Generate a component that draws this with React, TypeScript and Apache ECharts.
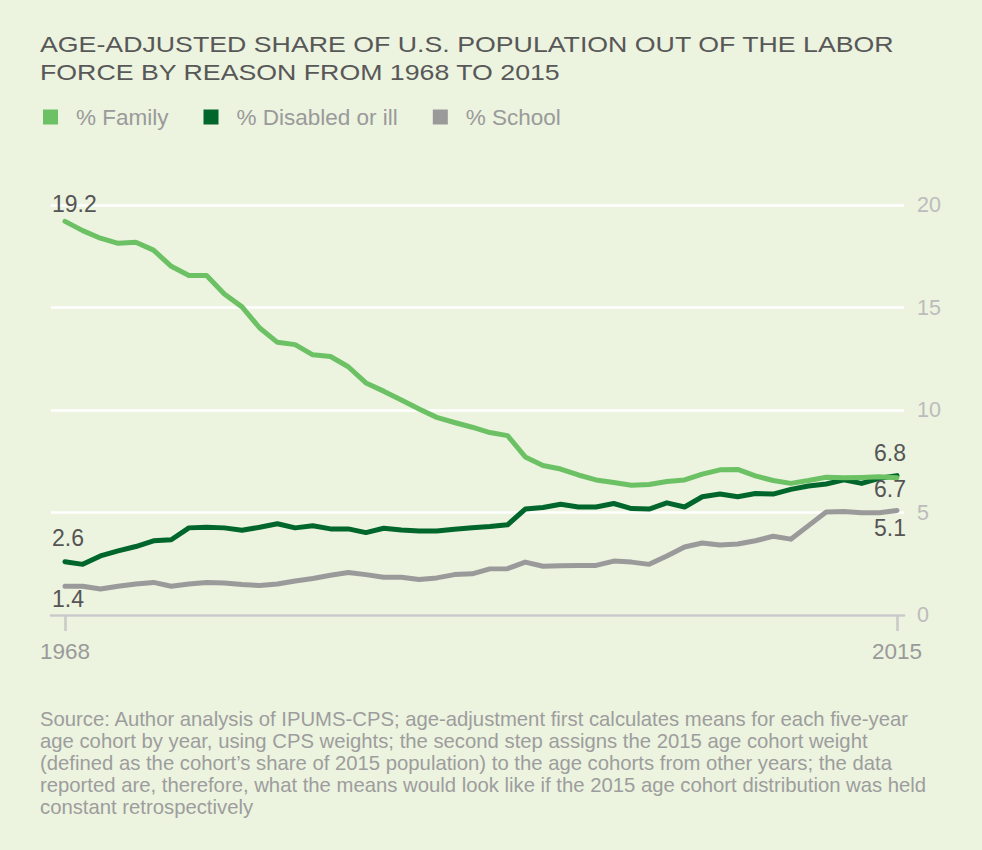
import React, { useEffect, useRef } from "react";
import * as echarts from "echarts";

const FONT = '"Liberation Sans", Arial, Helvetica, sans-serif';

const startYear = 1968;
const endYear = 2015;

const familyValues = [
  19.2, 18.75, 18.38, 18.13, 18.18, 17.8, 17.01, 16.56, 16.56, 15.66, 15.03, 14.0,
  13.3, 13.19, 12.69, 12.61, 12.11, 11.32, 10.92, 10.49, 10.05, 9.64, 9.39, 9.16,
  8.9, 8.75, 7.71, 7.29, 7.12, 6.83, 6.59, 6.46, 6.33, 6.37, 6.51, 6.59,
  6.87, 7.08, 7.1, 6.79, 6.56, 6.42, 6.56, 6.72, 6.69, 6.71, 6.74, 6.7,
];

const disabledValues = [
  2.6, 2.47, 2.88, 3.13, 3.34, 3.62, 3.67, 4.25, 4.28, 4.25, 4.13, 4.28,
  4.45, 4.25, 4.35, 4.2, 4.2, 4.02, 4.23, 4.15, 4.1, 4.1, 4.18, 4.26,
  4.32, 4.4, 5.17, 5.24, 5.4, 5.27, 5.27, 5.44, 5.19, 5.17, 5.47, 5.27,
  5.77, 5.9, 5.77, 5.93, 5.9, 6.13, 6.29, 6.39, 6.59, 6.42, 6.67, 6.8,
];

const schoolValues = [
  1.4, 1.4, 1.27, 1.4, 1.51, 1.59, 1.4, 1.51, 1.59, 1.56, 1.49, 1.44,
  1.51, 1.66, 1.78, 1.94, 2.07, 1.97, 1.84, 1.84, 1.73, 1.81, 1.97, 2.01,
  2.25, 2.26, 2.58, 2.38, 2.4, 2.42, 2.42, 2.63, 2.58, 2.47, 2.88, 3.32,
  3.51, 3.42, 3.46, 3.62, 3.84, 3.7, 4.36, 5.02, 5.05, 4.99, 4.99, 5.1,
];

const seriesNames = ["% Family", "% Disabled or ill", "% School"];
const seriesColors = ["#6cc164", "#00662b", "#9a9a9a"];

const xTickYears = [1968, 2015];
const yTicks = [0, 5, 10, 15, 20];

const titleText =
  "AGE-ADJUSTED SHARE OF U.S. POPULATION OUT OF THE LABOR\nFORCE BY REASON FROM 1968 TO 2015";

const sourceText =
  "Source: Author analysis of IPUMS-CPS; age-adjustment first calculates means for each five-year\n" +
  "age cohort by year, using CPS weights; the second step assigns the 2015 age cohort weight\n" +
  "(defined as the cohort\u2019s share of 2015 population) to the age cohorts from other years; the data\n" +
  "reported are, therefore, what the means would look like if the 2015 age cohort distribution was held\n" +
  "constant retrospectively";

// label placement for first / last point of each series: [position, distance]
const startLabelPlacement: [string, number][] = [
  ["top", 5],
  ["top", 12],
  ["bottom", 1],
];
const endLabelPlacement: [string, number][] = [
  ["bottom", -1],
  ["top", 11],
  ["bottom", 6],
];

function buildData(values: number[], idx: number) {
  const n = values.length;
  return values.map((v, i) => {
    const year = startYear + i;
    if (i === 0) {
      return {
        value: [year, v],
        label: {
          show: true,
          position: startLabelPlacement[idx][0],
          distance: startLabelPlacement[idx][1],
          align: "left",
          offset: [-13, 0],
        },
      };
    }
    if (i === n - 1) {
      return {
        value: [year, v],
        label: {
          show: true,
          position: endLabelPlacement[idx][0],
          distance: endLabelPlacement[idx][1],
          align: "right",
          offset: [9, 0],
        },
      };
    }
    return { value: [year, v] };
  });
}

export default function App() {
  const ref = useRef<HTMLDivElement>(null);

  useEffect(() => {
    if (!ref.current) return;
    const chart = echarts.init(ref.current, undefined, { renderer: "svg" });

    const allValues = [familyValues, disabledValues, schoolValues];

    // x scale: first year at 65px, last year at 897px within grid 51..904
    const gridLeft = 51;
    const gridRight = 904;
    const firstX = 65;
    const lastX = 897;
    const pxPerYear = (lastX - firstX) / (endYear - startYear);
    const xMin = startYear - (firstX - gridLeft) / pxPerYear;
    const xMax = xMin + (gridRight - gridLeft) / pxPerYear;

    const option: any = {
      animation: false,
      backgroundColor: "#ecf3df",
      textStyle: { fontFamily: FONT },
      graphic: [
        {
          type: "text",
          x: 40,
          y: 30,
          scaleX: 1.215,
          silent: true,
          style: {
            text: titleText,
            font: `normal 22px ${FONT}`,
            fill: "#585858",
            lineHeight: 28.5,
            textVerticalAlign: "top",
          },
        },
      ],
      title: [
        {
          text: sourceText,
          left: 40,
          top: 708,
          padding: 0,
          textStyle: {
            fontFamily: FONT,
            fontSize: 20.3,
            fontWeight: "normal",
            color: "#9d9d9d",
            lineHeight: 22,
          },
        },
      ],
      legend: {
        data: seriesNames,
        left: 43,
        top: 105.5,
        padding: 0,
        icon: "rect",
        itemWidth: 15,
        itemHeight: 15,
        itemGap: 35,
        textStyle: {
          fontFamily: FONT,
          fontSize: 22.5,
          color: "#9a9a9a",
          padding: [0, 0, 0, 13],
        },
      },
      grid: {
        left: gridLeft,
        right: 982 - gridRight,
        top: 205,
        bottom: 850 - 615,
        containLabel: false,
      },
      xAxis: {
        type: "value",
        min: xMin,
        max: xMax,
        splitLine: { show: false },
        axisLine: { show: true, lineStyle: { color: "#c9c9c9", width: 2.5 } },
        axisTick: {
          show: true,
          customValues: xTickYears,
          length: 16,
          lineStyle: { color: "#c9c9c9", width: 2.5 },
        },
        axisLabel: {
          show: true,
          customValues: xTickYears,
          color: "#9a9a9a",
          fontSize: 22.5,
          fontFamily: FONT,
          margin: 25,
          formatter: (v: number) => String(Math.round(v)),
        },
      },
      yAxis: {
        type: "value",
        position: "right",
        min: yTicks[0],
        max: yTicks[yTicks.length - 1],
        interval: 5,
        axisLine: { show: false },
        axisTick: { show: false },
        splitLine: { show: true, lineStyle: { color: "#ffffff", width: 2.5 } },
        axisLabel: {
          color: "#bcbcbc",
          fontSize: 21.5,
          fontFamily: FONT,
          margin: 13,
        },
      },
      series: seriesNames.map((name, idx) => ({
        name,
        type: "line",
        data: buildData(allValues[idx], idx),
        symbol: "circle",
        symbolSize: 1,
        showSymbol: true,
        color: seriesColors[idx],
        itemStyle: { color: seriesColors[idx] },
        lineStyle: { color: seriesColors[idx], width: 5, cap: "round", join: "round" },
        label: {
          show: false,
          color: "#555555",
          fontSize: 23,
          fontFamily: FONT,
        },
        emphasis: { disabled: true },
        z: 10 - idx,
        clip: false,
      })),
    };

    chart.setOption(option);
    return () => chart.dispose();
  }, []);

  return (
    <div
      ref={ref}
      style={{ position: "absolute", left: 0, top: 0, width: 982, height: 850 }}
    />
  );
}
